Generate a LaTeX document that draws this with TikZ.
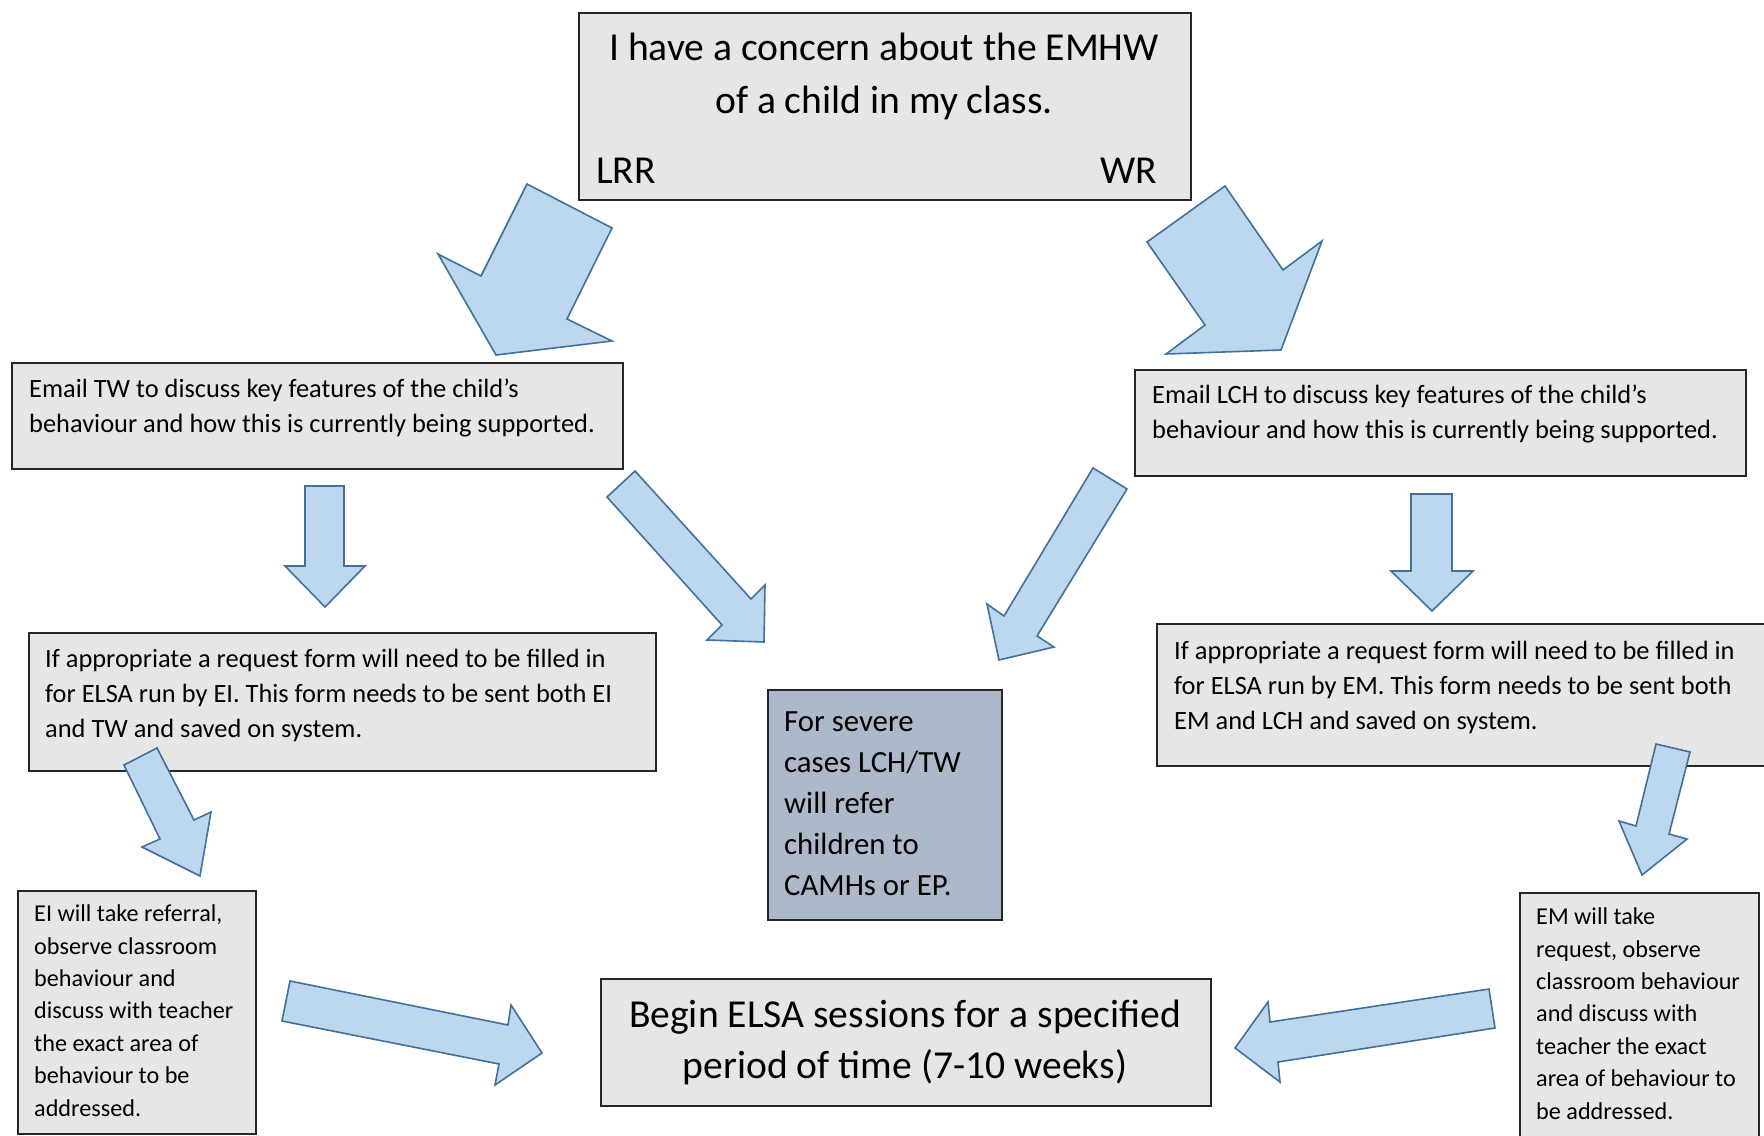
\documentclass[tikz,border=0pt]{standalone}
\usepackage{fontspec}
\setmainfont{Carlito}
\definecolor{boxgray}{HTML}{E6E6E6}
\definecolor{arrowfill}{HTML}{BDD7EE}
\definecolor{arrowline}{HTML}{41719C}
\definecolor{severe}{HTML}{ADB9CA}
\tikzset{
  box/.style={draw=black!85, fill=boxgray, line width=1.6pt, anchor=north west, inner sep=0pt},
  blk/.style={draw=arrowline, fill=arrowfill, line width=1.6pt, line join=miter},
  tbig/.style={font=\fontsize{39.6}{52.2}\selectfont, inner sep=0pt},
  tmed/.style={font=\fontsize{26.4}{34.8}\selectfont, align=left, anchor=base west, inner sep=0pt},
  tsev/.style={font=\fontsize{30.8}{41}\selectfont, align=left, anchor=base west, inner sep=0pt},
  tsml/.style={font=\fontsize{24.2}{32.4}\selectfont, align=left, anchor=base west, inner sep=0pt}
}
\begin{document}
\begin{tikzpicture}[x=1pt,y=-1pt]
\clip (0,0) rectangle (1764,1135);
\fill[white] (0,0) rectangle (1764,1135);

% boxes
\node[box, minimum width=612pt, minimum height=187pt] (top) at (578,12) {};
\node[box, minimum width=611pt, minimum height=106pt] (tw) at (11,362) {};
\node[box, minimum width=611pt, minimum height=106pt] (lch) at (1134,369) {};
\node[box, minimum width=627pt, minimum height=138pt] (ei) at (28,632) {};
\node[box, minimum width=640pt, minimum height=142pt] (em) at (1156,623) {};
\node[box, fill=severe, minimum width=234pt, minimum height=230pt] (sev) at (767,689) {};
\node[box, minimum width=238pt, minimum height=243pt] (eiref) at (17,890) {};
\node[box, minimum width=239pt, minimum height=270pt] (emref) at (1519,892) {};
\node[box, minimum width=610pt, minimum height=127pt] (elsa) at (600,978) {};

% texts (anchor base = baseline of the last line)
\node[tbig, align=center, anchor=base] (toptxt) at (884,113) {I have a concern about the EMHW\\of a child in my class.};
\node[tbig, anchor=base west] (lrr) at (596,183) {LRR};
\node[tbig, anchor=base east] (wr) at (1157,183) {WR};
\node[tmed] (twt) at (29,432) {Email TW to discuss key features of the child’s\\behaviour and how this is currently being supported.};
\node[tmed] (lcht) at (1152,438) {Email LCH to discuss key features of the child’s\\behaviour and how this is currently being supported.};
\node[tmed] (eit) at (45,737) {If appropriate a request form will need to be filled in\\for ELSA run by EI. This form needs to be sent both EI\\and TW and saved on system.};
\node[tmed] (emt) at (1174,729) {If appropriate a request form will need to be filled in\\for ELSA run by EM. This form needs to be sent both\\EM and LCH and saved on system.};
\node[tsev] (sevt) at (784,895) {For severe\\cases LCH/TW\\will refer\\children to\\CAMHs or EP.};
\node[tsml] (eireft) at (34,1116) {EI will take referral,\\observe classroom\\behaviour and\\discuss with teacher\\the exact area of\\behaviour to be\\addressed.};
\node[tsml] (emreft) at (1536,1119) {EM will take\\request, observe\\classroom behaviour\\and discuss with\\teacher the exact\\area of behaviour to\\be addressed.};
\node[tbig, font=\fontsize{39.6}{50.6}\selectfont, align=center, anchor=base] (elsat) at (905,1078) {Begin ELSA sessions for a specified\\period of time (7-10 weeks)};

% block arrows
\draw[blk] (527,184) -- (612,228) -- (567,319) -- (612,341) -- (496,355) -- (438,254) -- (481,276) -- cycle;
\draw[blk] (1225,186) -- (1283,270) -- (1322,241) -- (1281,350) -- (1166,354) -- (1205,325) -- (1147,242) -- cycle;
\draw[blk] (305,486) -- (344,486) -- (344,566) -- (365,566) -- (325,607) -- (285,566) -- (305,566) -- cycle;
\draw[blk] (635,471) -- (751,599) -- (765,585) -- (764,642) -- (707,640) -- (722,625) -- (607,497) -- cycle;
\draw[blk] (1093,468) -- (1127,489) -- (1037,636) -- (1054,647) -- (999,660) -- (987,604) -- (1004,616) -- cycle;
\draw[blk] (1411,494) -- (1452,494) -- (1452,571) -- (1473,571) -- (1432,611) -- (1391,571) -- (1411,571) -- cycle;
\draw[blk] (124,765) -- (157,748) -- (194,820) -- (211,812) -- (200,876) -- (142,847) -- (160,839) -- cycle;
\draw[blk] (1656,744) -- (1690,752) -- (1669,834) -- (1687,839) -- (1642,875) -- (1619,821) -- (1636,826) -- cycle;
\draw[blk] (290,981) -- (508,1025) -- (511,1005) -- (542,1053) -- (495,1085) -- (499,1064) -- (282,1021) -- cycle;
\draw[blk] (1489,989) -- (1495,1028) -- (1278,1062) -- (1280,1082) -- (1235,1048) -- (1268,1002) -- (1270,1022) -- cycle;
\end{tikzpicture}
\end{document}
